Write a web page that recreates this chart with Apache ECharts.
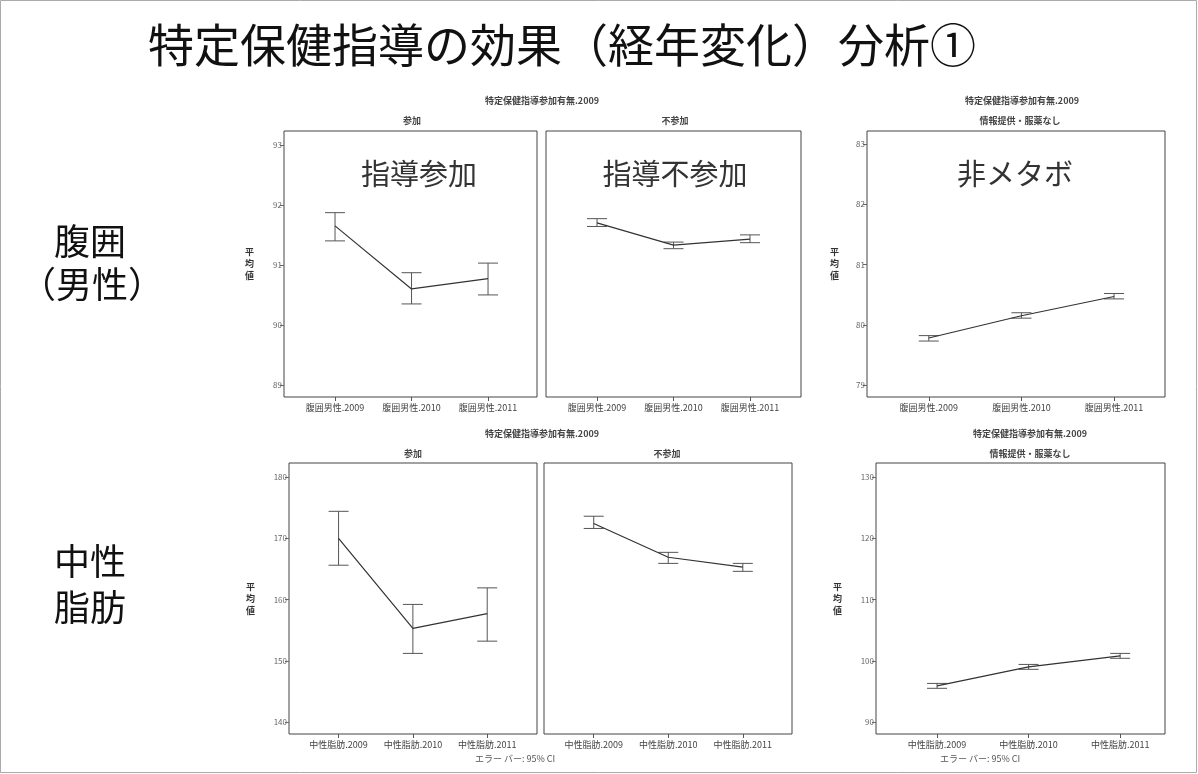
<!DOCTYPE html>
<html>
<head>
<meta charset="utf-8">
<script src="https://cdn.jsdelivr.net/npm/echarts@6/dist/echarts.min.js"></script>
<style>
  html, body { margin: 0; padding: 0; background: #fff; }
  #chart { width: 1198px; height: 774px; }
</style>
</head>
<body>
<div id="chart"></div>
<script>
// categories
const waistCats = ['腹囲男性.2009', '腹囲男性.2010', '腹囲男性.2011'];
const tgCats = ['中性脂肪.2009', '中性脂肪.2010', '中性脂肪.2011'];

// 腹囲（男性） mean and 95% CI
const waistJoinMean = [91.65, 90.60, 90.77];
const waistJoinLow = [91.40, 90.35, 90.50];
const waistJoinHigh = [91.87, 90.87, 91.03];

const waistNoJoinMean = [91.70, 91.33, 91.43];
const waistNoJoinLow = [91.64, 91.27, 91.37];
const waistNoJoinHigh = [91.77, 91.38, 91.50];

const waistNonMetaMean = [79.78, 80.15, 80.47];
const waistNonMetaLow = [79.73, 80.11, 80.43];
const waistNonMetaHigh = [79.82, 80.20, 80.52];

// 中性脂肪 mean and 95% CI
const tgJoinMean = [170.0, 155.3, 157.7];
const tgJoinLow = [165.6, 151.2, 153.2];
const tgJoinHigh = [174.4, 159.2, 161.9];

const tgNoJoinMean = [172.4, 166.9, 165.3];
const tgNoJoinLow = [171.6, 165.9, 164.6];
const tgNoJoinHigh = [173.6, 167.7, 165.9];

const tgNonMetaMean = [95.9, 99.0, 100.8];
const tgNonMetaLow = [95.5, 98.6, 100.4];
const tgNonMetaHigh = [96.3, 99.4, 101.2];

const FONT = '"Noto Sans CJK JP", "Noto Sans", sans-serif';

const chart = echarts.init(document.getElementById('chart'));

// one entry per small plot
const panels = [
  { cats: waistCats, mean: waistJoinMean, low: waistJoinLow, high: waistJoinHigh,
    yMin: 88.8, yMax: 93.23, step: 1, xMax: 2.64, labels: true, nameGap: 30,
    grid: { left: 284, top: 131, width: 253, height: 266 } },
  { cats: waistCats, mean: waistNoJoinMean, low: waistNoJoinLow, high: waistNoJoinHigh,
    yMin: 88.8, yMax: 93.23, step: 1, xMax: 2.667, labels: false,
    grid: { left: 546, top: 131, width: 255, height: 266 } },
  { cats: waistCats, mean: waistNonMetaMean, low: waistNonMetaLow, high: waistNonMetaHigh,
    yMin: 78.8, yMax: 83.22, step: 1, xMax: 2.55, labels: true, nameGap: 28,
    grid: { left: 867, top: 131, width: 298, height: 266 } },
  { cats: tgCats, mean: tgJoinMean, low: tgJoinLow, high: tgJoinHigh,
    yMin: 138.04, yMax: 182.29, step: 10, xMax: 2.67, labels: true, nameGap: 34,
    grid: { left: 289, top: 463, width: 248, height: 271 } },
  { cats: tgCats, mean: tgNoJoinMean, low: tgNoJoinLow, high: tgNoJoinHigh,
    yMin: 138.04, yMax: 182.29, step: 10, xMax: 2.66, labels: false,
    grid: { left: 544, top: 463, width: 248, height: 271 } },
  { cats: tgCats, mean: tgNonMetaMean, low: tgNonMetaLow, high: tgNonMetaHigh,
    yMin: 88.04, yMax: 132.29, step: 10, xMax: 2.49, labels: true, nameGap: 34,
    grid: { left: 876, top: 463, width: 289, height: 271 } }
];

function isWhole(v) {
  return Math.abs(v - Math.round(v)) < 1e-6;
}

function renderErrorBar(params, api) {
  const x = api.value(0);
  const top = api.coord([x, api.value(2)]);
  const bottom = api.coord([x, api.value(1)]);
  const half = 10;
  const style = { stroke: '#555', lineWidth: 1, fill: null };
  return {
    type: 'group',
    children: [
      { type: 'line', shape: { x1: top[0], y1: top[1], x2: bottom[0], y2: bottom[1] }, style: style },
      { type: 'line', shape: { x1: top[0] - half, y1: top[1], x2: top[0] + half, y2: top[1] }, style: style },
      { type: 'line', shape: { x1: bottom[0] - half, y1: bottom[1], x2: bottom[0] + half, y2: bottom[1] }, style: style }
    ]
  };
}

const grids = [];
const xAxes = [];
const yAxes = [];
const series = [];

panels.forEach((p, i) => {
  grids.push(Object.assign({ show: true, borderColor: '#444', borderWidth: 1, backgroundColor: 'transparent' }, p.grid));

  xAxes.push({
    type: 'value', gridIndex: i, min: -0.667, max: p.xMax,
    minInterval: 1, maxInterval: 1,
    axisLine: { show: false, onZero: false },
    splitLine: { show: false },
    axisTick: { show: true, length: 4, lineStyle: { color: '#555' } },
    axisLabel: {
      show: true, margin: 6, fontSize: 9, color: '#444', fontFamily: FONT,
      showMinLabel: false, showMaxLabel: false,
      formatter: v => (isWhole(v) && v >= 0 && v <= 2) ? p.cats[Math.round(v)] : ''
    }
  });

  yAxes.push({
    type: 'value', gridIndex: i, min: p.yMin, max: p.yMax,
    minInterval: p.step, maxInterval: p.step,
    axisLine: { show: false, onZero: false },
    splitLine: { show: false },
    axisTick: { show: p.labels, length: 4, lineStyle: { color: '#666' } },
    axisLabel: {
      show: p.labels, margin: 2, fontSize: 8, color: '#666', fontFamily: FONT,
      showMinLabel: false, showMaxLabel: false,
      formatter: v => isWhole(v / p.step) ? String(Math.round(v)) : ''
    },
    name: p.labels ? '平\n均\n値' : '',
    nameLocation: 'middle', nameRotate: 0, nameGap: p.nameGap || 30,
    nameTextStyle: { fontSize: 9, lineHeight: 12, color: '#333', fontWeight: 'bold', fontFamily: FONT }
  });

  series.push({
    type: 'line', xAxisIndex: i, yAxisIndex: i,
    data: p.mean.map((v, k) => [k, v]),
    symbol: 'none', silent: true,
    lineStyle: { color: '#333', width: 1.2 }
  });

  series.push({
    type: 'custom', xAxisIndex: i, yAxisIndex: i,
    data: p.cats.map((c, k) => [k, p.low[k], p.high[k]]),
    encode: { x: 0, y: [1, 2] },
    renderItem: renderErrorBar, silent: true, z: 3
  });
});

function txt(text, x, y, size, opts) {
  return {
    type: 'text', x: x, y: y, silent: true,
    style: Object.assign({
      text: text, fontSize: size, fontFamily: FONT, fill: '#333',
      align: 'center', verticalAlign: 'middle'
    }, opts || {})
  };
}

const graphics = [
  { type: 'rect', silent: true, shape: { x: 0.5, y: 0.5, width: 1196, height: 772 },
    style: { fill: null, stroke: '#aaa', lineWidth: 1 } },
  txt('特定保健指導の効果（経年変化）分析①', 562, 45, 46, { fill: '#111' }),
  txt('腹囲', 90, 241, 36, { fill: '#111' }),
  txt('（男性）', 92, 284, 36, { fill: '#111' }),
  txt('中性', 90, 561, 36, { fill: '#111' }),
  txt('脂肪', 90, 607, 36, { fill: '#111' }),

  txt('特定保健指導参加有無.2009', 542, 101, 9, { fontWeight: 'bold', fill: '#444' }),
  txt('特定保健指導参加有無.2009', 1022, 101, 9, { fontWeight: 'bold', fill: '#444' }),
  txt('参加', 412, 121, 9, { fontWeight: 'bold', fill: '#444' }),
  txt('不参加', 675, 121, 9, { fontWeight: 'bold', fill: '#444' }),
  txt('情報提供・服薬なし', 1020, 121, 9, { fontWeight: 'bold', fill: '#444' }),

  txt('特定保健指導参加有無.2009', 542, 434, 9, { fontWeight: 'bold', fill: '#444' }),
  txt('特定保健指導参加有無.2009', 1030, 434, 9, { fontWeight: 'bold', fill: '#444' }),
  txt('参加', 413, 454, 9, { fontWeight: 'bold', fill: '#444' }),
  txt('不参加', 667, 454, 9, { fontWeight: 'bold', fill: '#444' }),
  txt('情報提供・服薬なし', 1030, 454, 9, { fontWeight: 'bold', fill: '#444' }),

  txt('指導参加', 419, 174, 29),
  txt('指導不参加', 675, 174, 29),
  txt('非メタボ', 1015, 174, 29),

  txt('エラー バー: 95% CI', 515, 759, 9, { fill: '#555' }),
  txt('エラー バー: 95% CI', 980, 759, 9, { fill: '#555' })
];

chart.setOption({
  backgroundColor: '#fff',
  animation: false,
  grid: grids,
  xAxis: xAxes,
  yAxis: yAxes,
  series: series,
  graphic: graphics
});
</script>
</body>
</html>
